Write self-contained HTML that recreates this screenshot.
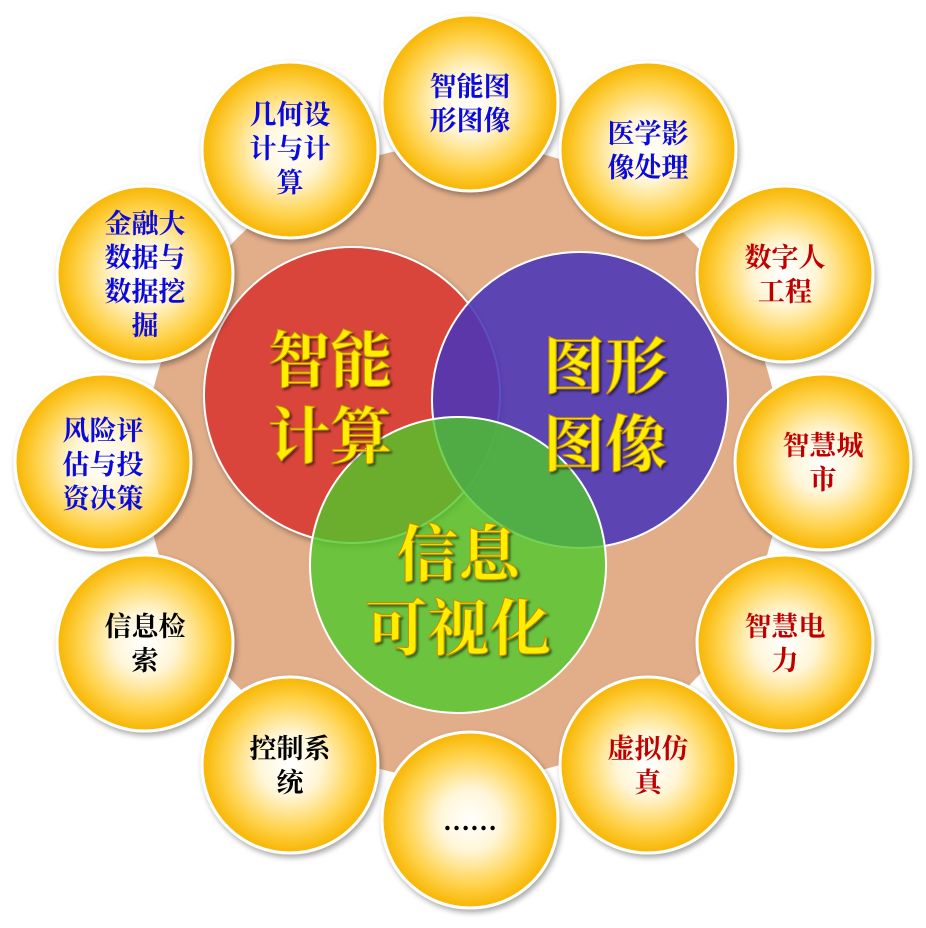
<!DOCTYPE html>
<html><head><meta charset="utf-8"><style>
html,body{margin:0;padding:0;background:#fff;}
svg text{font-family:"Liberation Serif","Noto Serif CJK SC",serif;}
</style></head><body>
<svg width="926" height="923" viewBox="0 0 926 923" xmlns="http://www.w3.org/2000/svg">
<defs>
<radialGradient id="og" cx="50%" cy="50%" r="50%">
<stop offset="0" stop-color="#ffffff"/><stop offset="0.35" stop-color="#fff6d8"/><stop offset="0.75" stop-color="#ffd24a"/><stop offset="1" stop-color="#f7b500"/>
</radialGradient>
<filter id="sh" x="-20%" y="-20%" width="140%" height="140%"><feDropShadow dx="2" dy="3" stdDeviation="3" flood-color="#000" flood-opacity="0.35"/></filter>
<filter id="ts" x="-10%" y="-10%" width="120%" height="130%"><feDropShadow dx="2" dy="2" stdDeviation="1" flood-color="#000" flood-opacity="0.5"/></filter>
</defs>
<circle cx="463" cy="462" r="318" fill="#e2ae8a"/>
<circle cx="352" cy="395" r="148" fill="#d9443a" stroke="#fff" stroke-width="2" filter="url(#sh)"/>
<circle cx="580" cy="400" r="148" fill="#4a35b8" fill-opacity="0.88" stroke="#fff" stroke-width="2"/>
<circle cx="458" cy="565" r="148" fill="#4fc82a" fill-opacity="0.8" stroke="#fff" stroke-width="2"/>
<g font-size="62" font-weight="bold" fill="#ffee00" stroke="#c89000" stroke-width="1" text-anchor="middle" filter="url(#ts)">
<text x="330" y="382">智能</text><text x="330" y="458">计算</text>
<text x="605" y="388">图形</text><text x="605" y="466">图像</text>
<text x="458" y="576">信息</text><text x="458" y="650">可视化</text>
</g>
<g stroke="#fff" stroke-width="3" fill="url(#og)" filter="url(#sh)">
<circle cx="470" cy="103" r="88"/><circle cx="648" cy="150" r="88"/><circle cx="785" cy="274" r="88"/>
<circle cx="823" cy="462" r="88"/><circle cx="785" cy="643" r="88"/><circle cx="648" cy="765" r="88"/>
<circle cx="470" cy="820" r="88"/><circle cx="290" cy="765" r="88"/><circle cx="145" cy="643" r="88"/>
<circle cx="103" cy="462" r="88"/><circle cx="145" cy="274" r="88"/><circle cx="290" cy="150" r="88"/>
</g>
<g font-size="27" font-weight="bold" text-anchor="middle">
<g fill="#0a0adc">
<text x="470" y="96">智能图</text><text x="470" y="130">形图像</text>
<text x="648" y="143">医学影</text><text x="648" y="177">像处理</text>
<text x="290" y="124">几何设</text><text x="290" y="158">计与计</text><text x="290" y="192">算</text>
<text x="145" y="233">金融大</text><text x="145" y="267">数据与</text><text x="145" y="301">数据挖</text><text x="145" y="335">掘</text>
<text x="103" y="440">风险评</text><text x="103" y="474">估与投</text><text x="103" y="508">资决策</text>
</g>
<g fill="#c00000">
<text x="785" y="267">数字人</text><text x="785" y="301">工程</text>
<text x="823" y="455">智慧城</text><text x="823" y="489">市</text>
<text x="785" y="636">智慧电</text><text x="785" y="670">力</text>
<text x="648" y="758">虚拟仿</text><text x="648" y="792">真</text>
</g>
<g fill="#000">
<text x="145" y="636">信息检</text><text x="145" y="670">索</text>
<text x="290" y="758">控制系</text><text x="290" y="792">统</text>
<text x="470" y="830">……</text>
</g>
</g>
</svg>
</body></html>
